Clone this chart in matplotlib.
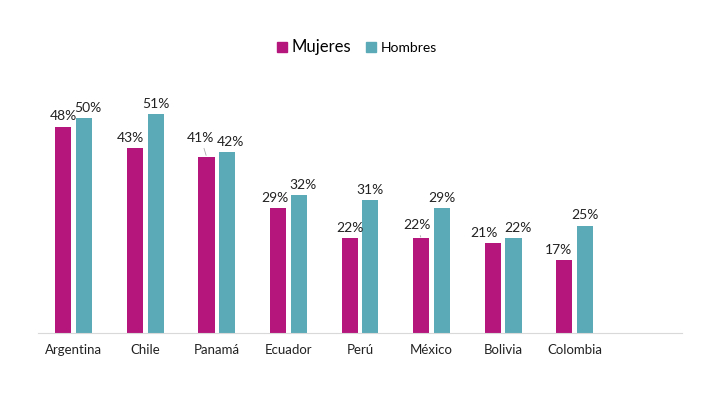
import numpy as np
import matplotlib.pyplot as plt
from matplotlib.lines import Line2D

plt.rcParams['font.family'] = ['Lato', 'DejaVu Sans']

paises = ['Argentina', 'Chile', 'Panamá', 'Ecuador', 'Perú', 'México', 'Bolivia', 'Colombia']
mujeres = [48, 43, 41, 29, 22, 22, 21, 17]
hombres = [50, 51, 42, 32, 31, 29, 22, 25]

# label nudges in points (dx, dy), leader line where the label was moved up
muj_dx = [0, -3, -4, -2, 0, -3, -6, -4]
muj_dy = [3, 3, 9, 3, 3, 5, 3, 3]
hom_dx = [3, 0, 2, 3, 0, 0, 3, 0]
leader = [False, False, True, False, False, True, False, False]

c_muj = '#B5167B'
c_hom = '#5AAAB8'

fig = plt.figure(figsize=(7.09, 3.97), dpi=100)
ax = fig.add_axes([38/709, 64/397, 644/709, 258/397])

x = np.arange(len(paises))
w = 0.225
off = 0.145
b1 = ax.bar(x - off, mujeres, w, color=c_muj)
b2 = ax.bar(x + off, hombres, w, color=c_hom)

for i, (r, v) in enumerate(zip(b1, mujeres)):
    cx = r.get_x() + r.get_width() / 2
    ap = dict(arrowstyle='-', color='#aaaaaa', lw=0.6, shrinkA=1, shrinkB=1) if leader[i] else None
    ax.annotate(f'{v}%', (cx, v), xytext=(muj_dx[i], muj_dy[i]), textcoords='offset points',
                ha='center', va='bottom', fontsize=10, color='#222222', arrowprops=ap)
for i, (r, v) in enumerate(zip(b2, hombres)):
    cx = r.get_x() + r.get_width() / 2
    ax.annotate(f'{v}%', (cx, v), xytext=(hom_dx[i], 3), textcoords='offset points',
                ha='center', va='bottom', fontsize=10, color='#222222')

ax.set_xlim(-0.5, 8.5)
ax.set_ylim(0, 60)
ax.set_xticks(x)
ax.set_xticklabels(paises, fontsize=9.5, color='#222222')
ax.tick_params(axis='x', length=0, pad=8)
ax.set_yticks([])
for s in ['top', 'right', 'left']:
    ax.spines[s].set_visible(False)
ax.spines['bottom'].set_color('#d9d9d9')

handles = [Line2D([], [], marker='s', ls='', color=c_muj, markersize=7),
           Line2D([], [], marker='s', ls='', color=c_hom, markersize=7)]
leg = fig.legend(handles, ['Mujeres', 'Hombres'], loc='center', ncol=2,
                 bbox_to_anchor=(355/709, 1 - 47/397), frameon=False,
                 handletextpad=0.1, columnspacing=0.8, handlelength=1.2)
leg.get_texts()[0].set_fontsize(12)
leg.get_texts()[1].set_fontsize(10)

fig.savefig('out.png', dpi=100)
